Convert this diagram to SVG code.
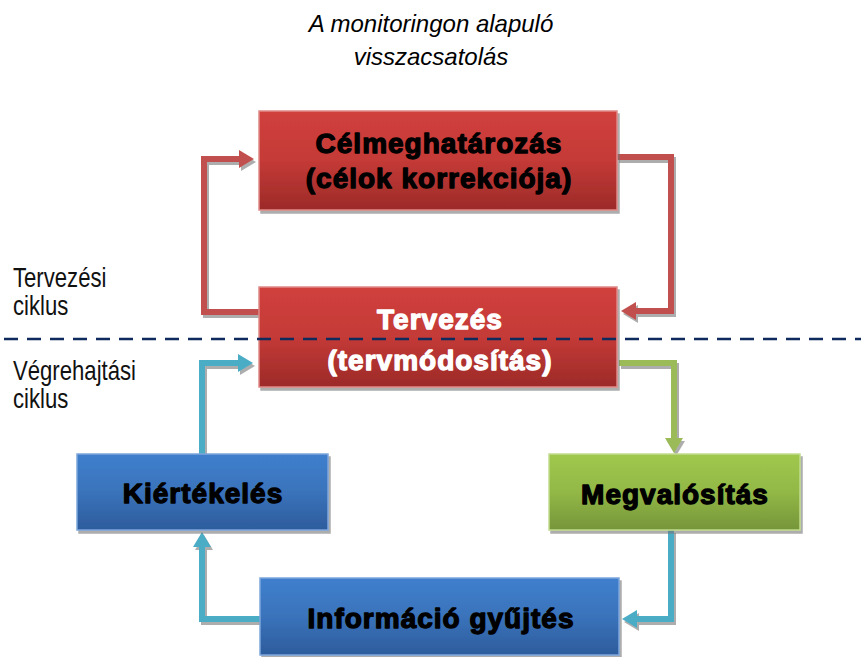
<svg xmlns="http://www.w3.org/2000/svg" width="861" height="657" viewBox="0 0 861 657">
<style>
.title{font-family:"Liberation Sans",Arial,sans-serif;font-style:italic;font-size:24px;fill:#000;text-anchor:middle}
.side{font-family:"Liberation Sans",Arial,sans-serif;font-size:27px;fill:#111}
.bt{font-family:"Liberation Sans",Arial,sans-serif;font-weight:bold;font-size:28px;letter-spacing:1px;text-anchor:middle;stroke-width:1.3;stroke-linejoin:round}
.dk{fill:#000;stroke:#000}
.wh{fill:#fff;stroke:#fff}
.box{stroke-width:1.5}
.red{fill:url(#gr);stroke:#e08a88}
.blue{fill:url(#gb);stroke:#7ea6dc}
.green{fill:url(#gg);stroke:#c2dc8e}
.con{fill:none;stroke-width:6;stroke-linejoin:miter}
.cr{stroke:#c0504d}
.cb{stroke:#4bacc6}
.cg{stroke:#9bbb59}
</style>
<defs>
<linearGradient id="gr" x1="0" y1="0" x2="0" y2="1"><stop offset="0" stop-color="#d0403d"/><stop offset="0.5" stop-color="#c43a37"/><stop offset="1" stop-color="#9c2a28"/></linearGradient>
<linearGradient id="gb" x1="0" y1="0" x2="0" y2="1"><stop offset="0" stop-color="#3f7fcd"/><stop offset="0.5" stop-color="#3a73bb"/><stop offset="1" stop-color="#2d5c9c"/></linearGradient>
<linearGradient id="gg" x1="0" y1="0" x2="0" y2="1"><stop offset="0" stop-color="#a0c84d"/><stop offset="0.5" stop-color="#92b846"/><stop offset="1" stop-color="#76953a"/></linearGradient>
<filter id="sh" x="-10%" y="-10%" width="130%" height="140%"><feDropShadow dx="2" dy="3" stdDeviation="0.3" flood-color="#777" flood-opacity="0.6"/></filter>
<marker id="ar" viewBox="0 -10 16 20" markerWidth="16" markerHeight="20" refX="1" refY="0" orient="auto" markerUnits="userSpaceOnUse"><path d="M0,-9 L15,0 L0,9 Z" fill="#c0504d"/></marker>
<marker id="ab" viewBox="0 -10 16 20" markerWidth="16" markerHeight="20" refX="1" refY="0" orient="auto" markerUnits="userSpaceOnUse"><path d="M0,-9 L15,0 L0,9 Z" fill="#4bacc6"/></marker>
<marker id="ag" viewBox="0 -10 16 20" markerWidth="16" markerHeight="20" refX="1" refY="0" orient="auto" markerUnits="userSpaceOnUse"><path d="M0,-9 L15,0 L0,9 Z" fill="#9bbb59"/></marker>
</defs>
<rect width="861" height="657" fill="#fff"/>
<g id="title">
<text class="title" x="431" y="32">A monitoringon alapuló</text>
<text class="title" x="431" y="65">visszacsatolás</text>
</g>
<g id="labels">
<text class="side" transform="translate(13,287) scale(0.82,1)">Tervezési</text>
<text class="side" transform="translate(13,315) scale(0.82,1)">ciklus</text>
<text class="side" transform="translate(13,380) scale(0.82,1)">Végrehajtási</text>
<text class="side" transform="translate(13,408) scale(0.82,1)">ciklus</text>
</g>
<g id="connectors" filter="url(#sh)">
<path class="con cr" d="M259,312 L204,312 L204,159 L240,159" marker-end="url(#ar)"/>
<path class="con cr" d="M617,157 L671,157 L671,311 L635,311" marker-end="url(#ar)"/>
<path class="con cb" d="M202,454 L202,363 L239,363" marker-end="url(#ab)"/>
<path class="con cg" d="M619,363 L674,363 L674,439" marker-end="url(#ag)"/>
<path class="con cb" d="M671,530 L671,619 L636,619" marker-end="url(#ab)"/>
<path class="con cb" d="M260,619 L202,619 L202,546" marker-end="url(#ab)"/>
</g>
<g id="celmeghatarozas">
<rect class="box red" x="259" y="111" width="358" height="99" filter="url(#sh)"/>
<text class="bt dk" x="439" y="153">Célmeghatározás</text>
<text class="bt dk" x="439" y="188">(célok korrekciója)</text>
</g>
<g id="tervezes">
<rect class="box red" x="259" y="287" width="358" height="100" filter="url(#sh)"/>
<text class="bt wh" x="440" y="329">Tervezés</text>
<text class="bt wh" x="440" y="370">(tervmódosítás)</text>
</g>
<g id="kiertekeles">
<rect class="box blue" x="77" y="454" width="251" height="76" filter="url(#sh)"/>
<text class="bt dk" x="203" y="503">Kiértékelés</text>
</g>
<g id="megvalositas">
<rect class="box green" x="549" y="454" width="251" height="76" filter="url(#sh)"/>
<text class="bt dk" x="675" y="504">Megvalósítás</text>
</g>
<g id="informacio">
<rect class="box blue" x="260" y="578" width="359" height="77" filter="url(#sh)"/>
<text class="bt dk" x="441" y="628">Információ gyűjtés</text>
</g>
<g id="divider">
<line x1="4" y1="339" x2="861" y2="339" stroke="#0f2a5c" stroke-width="2.5" stroke-dasharray="14 9"/>
</g>
</svg>
